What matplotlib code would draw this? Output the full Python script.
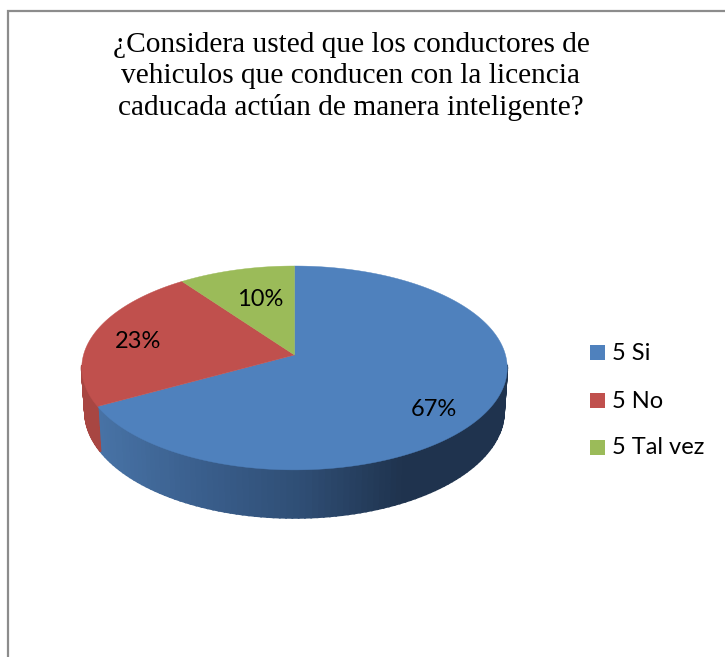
import matplotlib
matplotlib.use("Agg")
import matplotlib.pyplot as plt
import numpy as np
from matplotlib.colors import LinearSegmentedColormap
from matplotlib.patches import Rectangle

title = "¿Considera usted que los conductores de\nvehiculos que conducen con la licencia\ncaducada actúan de manera inteligente?"
categories = ["5 Si", "5 No", "5 Tal vez"]
values = [67, 23, 10]
colors = ["#4f81bd", "#c0504d", "#9bbb59"]

# side shading runs left to right, one colormap per slice
side_cmaps = [
    LinearSegmentedColormap.from_list("s0", ["#4873a6", "#3a5f8d", "#2f4e75", "#1f334e", "#1f334e"]),
    LinearSegmentedColormap.from_list("s1", ["#a84642", "#a84642"]),
    LinearSegmentedColormap.from_list("s2", ["#84a04b", "#84a04b"]),
]

CX, CY = 294.5, 355
A, B, K = 211, 100.3, 0.127


def project(t):
    # circle seen in perspective, t runs clockwise from the top
    s, c = np.sin(t), np.cos(t)
    w = 1 + K * c
    return CX + A * s / w, CY - B * c / w


def project_low(t):
    x, y = project(t)
    return CX + (x - CX) * 0.985, y + 45 + 0.046 * (y - 405)


fig = plt.figure(figsize=(7.25, 6.57), dpi=100)
ax = fig.add_axes([0, 0, 1, 1])
ax.set_xlim(0, 725)
ax.set_ylim(657, 0)
ax.axis("off")

# chart frame, cropped on the right and bottom
ax.plot([8.5, 8.5, 725], [657, 11, 11], color="#8c8c8c", lw=1.6, solid_joinstyle="miter")

ends = np.cumsum(values) / sum(values) * 2 * np.pi
starts = np.concatenate([[0], ends[:-1]])

# sides first, the top faces then cover the back half
for start, end, cmap in zip(starts, ends, side_cmaps):
    ts = np.linspace(start, end, 160)
    for t0, t1 in zip(ts[:-1], ts[1:]):
        if np.cos((t0 + t1) / 2) > -0.1:
            continue
        x0, y0 = project(t0)
        x1, y1 = project(t1)
        x2, y2 = project_low(t1)
        x3, y3 = project_low(t0)
        shade = cmap(np.clip(((x0 + x1) / 2 - 95) / 410, 0, 1))
        ax.fill([x0, x1, x2, x3], [y0, y1, y2, y3], color=shade, lw=1.3)

for start, end, color in zip(starts, ends, colors):
    ts = np.linspace(start, end, 200)
    xs, ys = project(ts)
    ax.fill(np.r_[CX, xs], np.r_[CY, ys], color=color, lw=0.3)

label_pos = [(434, 409), (138, 341), (260, 299)]
for v, (lx, ly) in zip(values, label_pos):
    ax.text(lx, ly, f"{v}%", family="Lato", fontsize=17, ha="center", va="center", color="black")

ax.text(351, 76.5, title, family="Liberation Serif", fontsize=21.2, ha="center", va="center",
        linespacing=1.26, color="black")

legend_y = [352, 400, 447]
for name, color, ly in zip(categories, colors, legend_y):
    ax.add_patch(Rectangle((590, ly - 7.5), 15, 15, color=color, lw=0))
    ax.text(612, ly + 1, name, family="Lato", fontsize=17, ha="left", va="center", color="black")

fig.savefig("out.png", dpi=100)
